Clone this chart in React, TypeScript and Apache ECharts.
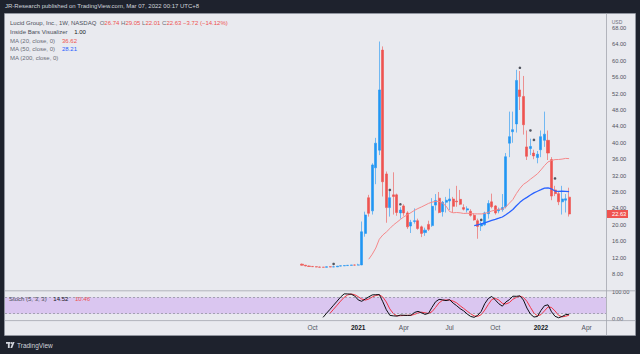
import React, { useEffect, useRef } from 'react';
import * as echarts from 'echarts';

// ---- axis domain ----
const FIRST_WEEK = '2019-02-04';
const WEEK_COUNT = 171;
const CANDLE_START = '2020-09-14';

// ---- weekly OHLC (Sep 14 2020 .. Feb 28 2022) ----
const opens = [
  10.40, 10.15, 9.95, 9.85, 9.78, 9.70, 9.66, 9.64, 9.76, 9.73, 9.74, 9.93, 10.00, 10.05, 10.13, 10.18, 10.17,
  10.22, 17.90, 26.60, 23.40, 33.90, 38.20, 62.60, 32.40, 24.20, 27.30, 27.30, 22.90, 24.60, 22.90, 19.70, 20.80, 21.00,
  19.50, 18.10, 20.10, 19.80, 24.80, 26.50, 23.20, 25.50, 25.80, 26.30, 25.80, 26.20, 24.20, 23.60, 23.30, 22.30,
  21.00, 19.70, 20.00, 22.70, 25.60, 24.60, 23.40, 23.70, 24.40, 39.90, 42.70, 44.60, 52.90, 51.30, 39.00, 38.60,
  37.50, 36.40, 38.30, 40.60, 40.60, 35.90, 28.50, 27.60, 25.60, 26.00, 26.74,
];
const highs = [
  10.55, 10.20, 10.05, 9.92, 9.85, 9.78, 9.72, 9.82, 9.86, 9.80, 9.95, 10.02, 10.10, 10.16, 10.22, 10.30, 10.50,
  20.80, 23.20, 27.30, 35.00, 41.20, 64.70, 63.50, 33.00, 28.20, 32.80, 27.60, 24.30, 25.00, 23.30, 21.20, 24.00, 21.50,
  19.80, 19.30, 21.00, 26.50, 27.50, 28.00, 25.80, 26.80, 28.80, 26.80, 29.50, 28.50, 25.00, 24.50, 23.80, 22.80,
  21.50, 20.80, 23.20, 26.00, 27.60, 24.80, 24.20, 27.50, 37.50, 47.60, 47.60, 57.80, 57.50, 56.30, 43.00, 41.00,
  38.30, 38.00, 43.00, 47.60, 43.00, 36.50, 29.50, 28.00, 29.50, 27.50, 29.05,
];
const lows = [
  10.05, 9.90, 9.80, 9.72, 9.66, 9.62, 9.60, 9.62, 9.68, 9.70, 9.72, 9.88, 9.94, 10.00, 10.06, 10.10, 10.12,
  10.15, 17.10, 22.00, 22.50, 29.90, 37.00, 26.90, 20.50, 22.00, 22.50, 22.20, 21.50, 22.20, 19.00, 18.00, 20.30, 18.80,
  17.00, 17.30, 18.50, 19.50, 23.50, 22.80, 22.00, 23.00, 23.60, 23.00, 24.40, 24.80, 23.50, 23.00, 22.00, 21.00,
  16.60, 18.50, 19.80, 21.50, 24.00, 22.50, 22.80, 23.20, 24.00, 36.50, 40.00, 42.50, 48.00, 42.00, 35.80, 37.00,
  36.00, 35.00, 36.50, 39.00, 35.80, 26.00, 27.00, 24.80, 22.50, 23.00, 22.01,
];
const closes = [
  10.15, 9.95, 9.85, 9.78, 9.70, 9.66, 9.64, 9.76, 9.73, 9.74, 9.93, 10.00, 10.05, 10.13, 10.18, 10.17, 10.22,
  18.30, 22.40, 22.80, 34.60, 39.90, 52.90, 30.50, 24.20, 26.60, 26.90, 23.00, 23.60, 22.90, 19.50, 20.60, 21.00, 19.10,
  17.90, 18.70, 18.90, 24.50, 25.90, 23.00, 25.50, 26.00, 26.30, 24.50, 25.60, 25.00, 23.80, 23.90, 22.30, 21.20,
  19.60, 20.30, 22.90, 25.20, 24.40, 22.90, 23.70, 24.20, 36.60, 41.50, 43.20, 55.20, 51.30, 44.40, 36.70, 39.10,
  36.80, 37.20, 41.50, 42.10, 37.50, 27.00, 27.60, 25.60, 26.30, 26.35, 22.63,
];

// ---- inside-bar markers ----
const insideWeeks = ['2020-11-16', '2021-03-08', '2021-03-29', '2021-09-06', '2021-11-22', '2021-12-13', '2021-12-20', '2022-01-31'];
const insideLevels = [10.45, 28.5, 25.0, 21.2, 58.3, 43.0, 40.7, 31.3];

// ---- price ticks ----
const PRICE_MIN = 4;
const PRICE_MAX = 71.41;
const PRICE_STEP = 4;

const UP = '#2196f3';
const DOWN = '#ef5350';

const weeks: string[] = [];
{
  const t0 = Date.parse(FIRST_WEEK + 'T00:00:00Z');
  for (let i = 0; i < WEEK_COUNT; i++) weeks.push(new Date(t0 + i * 7 * 864e5).toISOString().slice(0, 10));
}
const start = weeks.indexOf(CANDLE_START);
const n = closes.length;

const candleData = closes.map((c, k) => [start + k, opens[k], c, lows[k], highs[k]]);

function movingAverage(len: number) {
  const out: number[][] = [];
  for (let k = len - 1; k < n; k++) {
    let s = 0;
    for (let j = k - len + 1; j <= k; j++) s += closes[j];
    out.push([start + k, s / len]);
  }
  return out;
}
const ma20 = movingAverage(20);
const ma50 = movingAverage(50);

const raw: (number | null)[] = closes.map((c, k) => {
  if (k < 4) return null;
  let ll = Infinity, hh = -Infinity;
  for (let j = k - 4; j <= k; j++) { ll = Math.min(ll, lows[j]); hh = Math.max(hh, highs[j]); }
  return ((c - ll) / (hh - ll)) * 100;
});
const kLine: (number | null)[] = raw.map((_, k) => (k < 6 ? null : ((raw[k]! + raw[k - 1]! + raw[k - 2]!) / 3)));
const dLine: (number | null)[] = kLine.map((_, k) => (k < 8 ? null : ((kLine[k]! + kLine[k - 1]! + kLine[k - 2]!) / 3)));
const kData = kLine.map((v, k) => (v == null ? null : [start + k, v])).filter(Boolean);
const dData = dLine.map((v, k) => (v == null ? null : [start + k, v])).filter(Boolean);

const insideData = insideWeeks.map((w, i) => [weeks.indexOf(w), insideLevels[i]]);

const MONTHS = ['Jan', 'Feb', 'Mar', 'Apr', 'May', 'Jun', 'Jul', 'Aug', 'Sep', 'Oct', 'Nov', 'Dec'];
function isQuarterStart(i: number) {
  if (i < start || i === 0) return false;
  const m = +weeks[i].slice(5, 7) - 1;
  const pm = +weeks[i - 1].slice(5, 7) - 1;
  return m !== pm && m % 3 === 0;
}

const FONT = '"Liberation Sans", Arial, sans-serif';

export default function App() {
  const ref = useRef<HTMLDivElement>(null);
  useEffect(() => {
    const chart = echarts.init(ref.current!, null, { renderer: 'svg' });
    const lastClose = closes[n - 1];
    const option: any = {
      animation: false,
      backgroundColor: '#1e222d',
      textStyle: { fontFamily: FONT },
      grid: [
        { left: 5, top: 14, width: 601, height: 276.4 },
        { left: 5, top: 291.8, width: 601, height: 27.4 },
      ],
      xAxis: [
        {
          type: 'category', gridIndex: 0, data: weeks, boundaryGap: true,
          axisLine: { show: false }, axisTick: { show: false }, axisLabel: { show: false }, splitLine: { show: false },
        },
        {
          type: 'category', gridIndex: 1, data: weeks, boundaryGap: true,
          axisLine: { show: false }, axisTick: { show: false }, splitLine: { show: false },
          axisLabel: {
            interval: (i: number) => isQuarterStart(i),
            formatter: (v: string) => {
              const m = +v.slice(5, 7) - 1;
              return m === 0 ? '{y|' + v.slice(0, 4) + '}' : MONTHS[m];
            },
            fontSize: 6.5, color: '#50535e', margin: 5, fontFamily: FONT,
            rich: { y: { fontSize: 6.5, fontWeight: 'bold', color: '#131722', fontFamily: FONT } },
          },
        },
      ],
      yAxis: [
        {
          type: 'value', gridIndex: 0, position: 'right', min: PRICE_MIN, max: PRICE_MAX, interval: PRICE_STEP,
          axisLine: { show: false }, axisTick: { show: false }, splitLine: { show: false },
          axisLabel: {
            showMaxLabel: false, showMinLabel: false, margin: 6, fontSize: 5.7, color: '#50535e', fontFamily: FONT,
            formatter: (v: number) => (v >= 8 && v <= 68 && Math.abs(v % 4) < 1e-6 ? v.toFixed(2) : ''),
          },
        },
        {
          type: 'value', gridIndex: 1, position: 'right', min: 0, max: 100, interval: 100,
          axisLine: { show: false }, axisTick: { show: false }, splitLine: { show: false },
          axisLabel: { margin: 6, fontSize: 5.7, color: '#50535e', fontFamily: FONT, formatter: (v: number) => v.toFixed(2) },
        },
      ],
      series: [
        {
          type: 'candlestick', xAxisIndex: 0, yAxisIndex: 0, data: candleData,
          encode: { x: 0, y: [1, 2, 3, 4] }, barWidth: '72%',
          itemStyle: { color: UP, color0: DOWN, borderColor: 'rgba(33,150,243,0.6)', borderColor0: 'rgba(239,83,80,0.6)', borderWidth: 1 },
          z: 3,
        },
        {
          type: 'line', xAxisIndex: 0, yAxisIndex: 0, data: ma20, showSymbol: false, symbol: 'none',
          lineStyle: { color: '#f5888a', width: 1 }, z: 4,
        },
        {
          type: 'line', xAxisIndex: 0, yAxisIndex: 0, data: ma50, showSymbol: false, symbol: 'none',
          lineStyle: { color: '#2962ff', width: 1.3 }, z: 4,
        },
        {
          type: 'scatter', xAxisIndex: 0, yAxisIndex: 0, data: insideData, symbol: 'circle', symbolSize: 2.6,
          itemStyle: { color: '#2a2e39' }, z: 5,
        },
        {
          type: 'line', xAxisIndex: 1, yAxisIndex: 1, data: dData, showSymbol: false, symbol: 'none',
          lineStyle: { color: '#f23645', width: 1 }, z: 4,
          markArea: {
            silent: true, itemStyle: { color: '#dac6f0' },
            data: [[{ yAxis: 20 }, { yAxis: 80 }]],
          },
          markLine: {
            silent: true, symbol: 'none', label: { show: false },
            lineStyle: { color: '#8a8d97', type: [2, 2], width: 0.7 },
            data: [{ yAxis: 20 }, { yAxis: 80 }],
          },
        },
        {
          type: 'line', xAxisIndex: 1, yAxisIndex: 1, data: kData, showSymbol: false, symbol: 'none',
          lineStyle: { color: '#0d0f15', width: 1 }, z: 5,
        },
      ],
      graphic: {
        elements: [
          { type: 'rect', id: 'panel', z: -10, shape: { x: 4.5, y: 13.5, width: 631, height: 322 }, style: { fill: '#e9eaef', stroke: '#9aa0ab', lineWidth: 0.6 } },
          { type: 'line', id: 'sep1', z: 1, shape: { x1: 5, y1: 290.8, x2: 635, y2: 290.8 }, style: { stroke: '#a3a6af', lineWidth: 0.8 } },
          { type: 'line', id: 'sep2', z: 1, shape: { x1: 5, y1: 320.6, x2: 635, y2: 320.6 }, style: { stroke: '#a3a6af', lineWidth: 0.8 } },
          { type: 'line', id: 'vsep', z: 1, shape: { x1: 606.5, y1: 13.5, x2: 606.5, y2: 335.5 }, style: { stroke: '#a3a6af', lineWidth: 0.8 } },
          {
            type: 'text', id: 'hdr', x: 5, y: 6, z: 10,
            style: { text: 'JR-Research published on TradingView.com, Mar 07, 2022 00:17 UTC+8', fill: '#d1d4dc', font: '6px ' + FONT, verticalAlign: 'middle' },
          },
          {
            type: 'text', id: 'leg1', x: 10, y: 23, z: 10,
            style: {
              text: '{t|Lucid Group, Inc., 1W, NASDAQ}  {g|O}{r|26.74} {g|H}{r|29.05} {g|L}{r|22.01} {g|C}{r|22.63} {r|\u22123.72 (\u221214.12%)}',
              verticalAlign: 'middle', font: '6px ' + FONT,
              rich: {
                t: { fill: '#4a4e59', font: '6px ' + FONT },
                g: { fill: '#6a6d78', font: '6px ' + FONT },
                r: { fill: DOWN, font: '6px ' + FONT },
              },
            },
          },
          {
            type: 'text', id: 'leg2', x: 10, y: 31.7, z: 10,
            style: { text: '{g|Inside Bars Visualizer}  {b|1.00}', verticalAlign: 'middle', rich: { g: { fill: '#4a4e59', font: '6px ' + FONT }, b: { fill: '#131722', font: '6px ' + FONT } } },
          },
          {
            type: 'text', id: 'leg3', x: 10, y: 40.5, z: 10,
            style: { text: '{g|MA (20, close, 0)}  {r|36.62}', verticalAlign: 'middle', rich: { g: { fill: '#6a6d78', font: '6px ' + FONT }, r: { fill: DOWN, font: '6px ' + FONT } } },
          },
          {
            type: 'text', id: 'leg4', x: 10, y: 49, z: 10,
            style: { text: '{g|MA (50, close, 0)}  {r|28.21}', verticalAlign: 'middle', rich: { g: { fill: '#6a6d78', font: '6px ' + FONT }, r: { fill: '#2962ff', font: '6px ' + FONT } } },
          },
          {
            type: 'text', id: 'leg5', x: 10, y: 57.6, z: 10,
            style: { text: 'MA (200, close, 0)', verticalAlign: 'middle', fill: '#6a6d78', font: '6px ' + FONT },
          },
          {
            type: 'text', id: 'stochleg', x: 9, y: 298.8, z: 10,
            style: { text: '{g|Stoch (5, 3, 3)}  {b|14.52}  {r|10.46}', verticalAlign: 'middle', rich: { g: { fill: '#4a4e59', font: '6px ' + FONT }, b: { fill: '#131722', font: '6px ' + FONT }, r: { fill: DOWN, font: '6px ' + FONT } } },
          },
          {
            type: 'text', id: 'usd', x: 617, y: 21.5, z: 10,
            style: { text: 'USD', fill: '#6a6d78', font: '5px ' + FONT, align: 'center', verticalAlign: 'middle' },
          },
          { type: 'rect', id: 'lg1', z: 10, shape: { x: 6, y: 342, width: 4.2, height: 1.8 }, style: { fill: '#d1d4dc' } },
          { type: 'rect', id: 'lg2', z: 10, shape: { x: 7.9, y: 342, width: 1.8, height: 6 }, style: { fill: '#d1d4dc' } },
          { type: 'circle', id: 'lg3', z: 10, shape: { cx: 11.3, cy: 343, r: 0.9 }, style: { fill: '#d1d4dc' } },
          { type: 'polygon', id: 'lg4', z: 10, shape: { points: [[12.6, 342], [14.6, 342], [12.2, 348], [10.4, 348]] }, style: { fill: '#d1d4dc' } },
          {
            type: 'text', id: 'tvtext', x: 17, y: 345.2, z: 10,
            style: { text: 'TradingView', fill: '#d1d4dc', font: '6.5px ' + FONT, verticalAlign: 'middle' },
          },
        ],
      },
    };
    chart.setOption(option);
    const yb = chart.convertToPixel({ yAxisIndex: 0 }, lastClose) as number;
    chart.setOption({
      graphic: {
        elements: [
          { type: 'rect', id: 'badge', z: 100, shape: { x: 607, y: yb - 4, width: 21, height: 8 }, style: { fill: DOWN } },
          {
            type: 'text', id: 'badgeText', z: 101, x: 612, y: yb,
            style: { text: lastClose.toFixed(2), fill: '#ffffff', font: '5.7px ' + FONT, verticalAlign: 'middle' },
          },
        ],
      },
    });
    return () => chart.dispose();
  }, []);
  return <div ref={ref} style={{ position: 'fixed', left: 0, top: 0, width: 640, height: 354 }} />;
}
